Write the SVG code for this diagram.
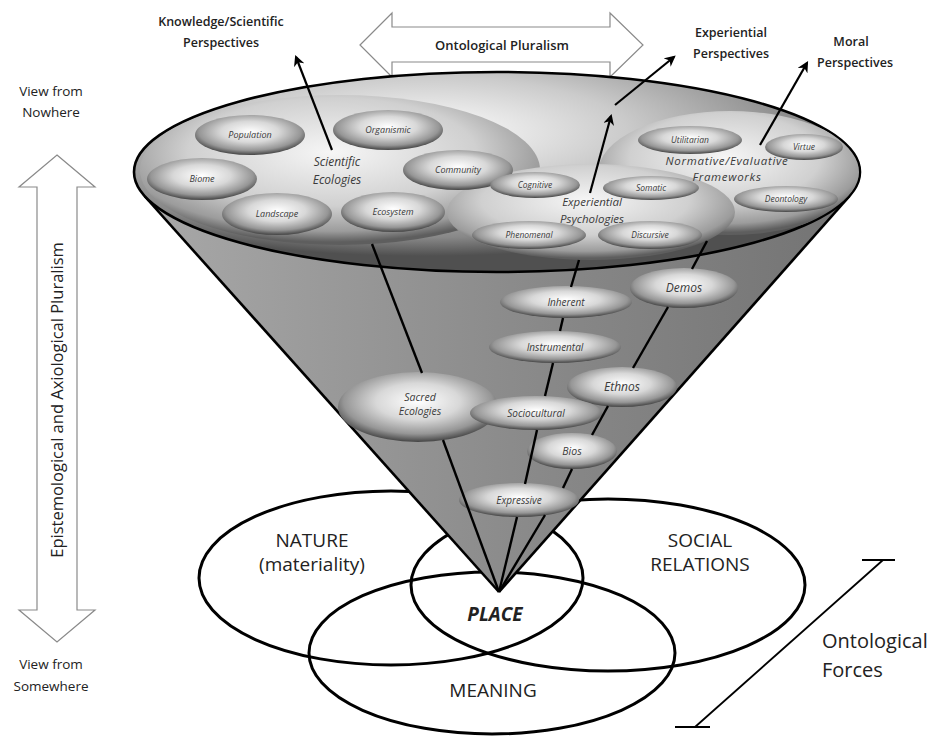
<svg xmlns="http://www.w3.org/2000/svg" width="946" height="736" viewBox="0 0 946 736">
<defs>
<style>
.lbl{font-family:"Open Sans","Liberation Sans",sans-serif;fill:#222;text-anchor:middle}
.hd{font-size:12.5px;font-weight:600}
.big{font-size:19px}
.ni{font-family:"Open Sans","Liberation Sans",sans-serif;font-style:italic;fill:#3a3a3a;text-anchor:middle}
.venn{fill:none;stroke:#000;stroke-width:3}
.conn{stroke:#000;stroke-width:2.4;fill:none}
.arr{stroke:#000;stroke-width:2.2;fill:none;marker-end:url(#ah)}
.bub{fill:url(#gBub)}
.reg{fill:url(#gReg)}
.dbl{fill:#fff;stroke:#8a8a8a;stroke-width:1.2}
</style>
<marker id="ah" viewBox="0 0 10 10" refX="8" refY="5" markerWidth="5" markerHeight="5" orient="auto">
<path d="M0,0 L10,5 L0,10 L3,5 z" fill="#000"/>
</marker>
<radialGradient id="gBub" cx="50%" cy="42%" r="58%">
<stop offset="0" stop-color="#ffffff"/>
<stop offset="0.45" stop-color="#d8d8d8"/>
<stop offset="0.8" stop-color="#969696"/>
<stop offset="1" stop-color="#444444"/>
</radialGradient>
<radialGradient id="gReg" cx="48%" cy="38%" r="60%">
<stop offset="0" stop-color="#f6f6f6"/>
<stop offset="0.6" stop-color="#d0d0d0"/>
<stop offset="0.88" stop-color="#9c9c9c"/>
<stop offset="1" stop-color="#5e5e5e"/>
</radialGradient>
<radialGradient id="gTop" cx="40%" cy="30%" r="62%">
<stop offset="0" stop-color="#ffffff"/>
<stop offset="0.45" stop-color="#cbcbcb"/>
<stop offset="0.85" stop-color="#888888"/>
<stop offset="1" stop-color="#505050"/>
</radialGradient>
<linearGradient id="gCone" x1="0" y1="0" x2="1" y2="0">
<stop offset="0" stop-color="#a8a8a8"/>
<stop offset="0.5" stop-color="#8c8c8c"/>
<stop offset="1" stop-color="#737373"/>
</linearGradient>
<clipPath id="topClip"><ellipse cx="497" cy="172" rx="362" ry="99"/></clipPath>
</defs>
<rect width="946" height="736" fill="#fff"/>

<g id="ontological-pluralism">
<polygon class="dbl" points="360,45 392,13 392,27 610,27 610,13 643,45 610,77 610,62 392,62 392,77"/>
<text class="lbl" x="502" y="50" font-size="13" font-weight="600">Ontological Pluralism</text>
</g>

<g id="epistemological-pluralism">
<polygon class="dbl" points="57,155 95,187 77,187 77,610 95,610 57,642 19,610 37,610 37,187 19,187"/>
<text class="lbl" transform="translate(63,400) rotate(-90)" font-size="16.5">Epistemological and Axiological Pluralism</text>
</g>

<g id="view-labels">
<text class="lbl" x="51" y="96" font-size="13.5">View from</text>
<text class="lbl" x="51" y="117" font-size="13.5">Nowhere</text>
<text class="lbl" x="51" y="669" font-size="13.5">View from</text>
<text class="lbl" x="51" y="691" font-size="13.5">Somewhere</text>
</g>

<g id="nature"><ellipse class="venn" cx="391" cy="578" rx="192" ry="87"/></g>
<g id="social-relations"><ellipse class="venn" cx="608" cy="585" rx="197" ry="86"/></g>
<g id="meaning"><ellipse class="venn" cx="492" cy="653" rx="183" ry="81"/></g>

<g id="cone">
<polygon points="144.5,196 499,592 849.6,196" fill="url(#gCone)"/>
<line x1="144.5" y1="196" x2="499" y2="592" stroke="#000" stroke-width="2.6"/>
<line x1="849.6" y1="196" x2="499" y2="592" stroke="#000" stroke-width="2.6"/>
<ellipse cx="497" cy="172" rx="363" ry="100" fill="url(#gTop)" stroke="#000" stroke-width="2.6"/>
</g>

<g clip-path="url(#topClip)">
<g id="scientific-ecologies">
<ellipse class="reg" cx="340" cy="170" rx="200" ry="75"/>
<text class="ni" x="337" y="166" font-size="12">Scientific</text>
<text class="ni" x="337" y="184" font-size="12">Ecologies</text>
</g>
<g id="normative-frameworks">
<ellipse class="reg" cx="730" cy="173" rx="132" ry="62"/>
</g>
<g id="experiential-psychologies">
<ellipse class="reg" cx="591" cy="212" rx="144" ry="48"/>
<text class="ni" x="592" y="206" font-size="11.5">Experiential</text>
<text class="ni" x="592" y="223" font-size="11.5">Psychologies</text>
</g>
</g>

<g id="population"><ellipse class="bub" cx="250" cy="135" rx="55" ry="20"/><text class="ni" x="250" y="138" font-size="9">Population</text></g>
<g id="organismic"><ellipse class="bub" cx="388" cy="130" rx="55" ry="20"/><text class="ni" x="388" y="133" font-size="9">Organismic</text></g>
<g id="biome"><ellipse class="bub" cx="202" cy="179" rx="55" ry="21"/><text class="ni" x="202" y="182" font-size="9">Biome</text></g>
<g id="community"><ellipse class="bub" cx="458" cy="170" rx="55" ry="20"/><text class="ni" x="458" y="173" font-size="9">Community</text></g>
<g id="landscape"><ellipse class="bub" cx="277" cy="214" rx="55" ry="21"/><text class="ni" x="277" y="217" font-size="9">Landscape</text></g>
<g id="ecosystem"><ellipse class="bub" cx="393" cy="212" rx="52" ry="20"/><text class="ni" x="393" y="215" font-size="9">Ecosystem</text></g>
<g id="cognitive"><ellipse class="bub" cx="535" cy="185" rx="45" ry="13"/><text class="ni" x="535" y="188" font-size="8.5">Cognitive</text></g>
<g id="somatic"><ellipse class="bub" cx="651" cy="188" rx="48" ry="12"/><text class="ni" x="651" y="191" font-size="8.5">Somatic</text></g>
<g id="phenomenal"><ellipse class="bub" cx="529" cy="235" rx="57" ry="14"/><text class="ni" x="529" y="238" font-size="8.5">Phenomenal</text></g>
<g id="discursive"><ellipse class="bub" cx="650" cy="235" rx="52" ry="14"/><text class="ni" x="650" y="238" font-size="8.5">Discursive</text></g>
<g id="utilitarian"><ellipse class="bub" cx="690" cy="140" rx="52" ry="14"/><text class="ni" x="690" y="143" font-size="8.5">Utilitarian</text></g>
<g id="virtue"><ellipse class="bub" cx="804" cy="147" rx="39" ry="13"/><text class="ni" x="804" y="150" font-size="8.5">Virtue</text></g>
<g id="deontology"><ellipse class="bub" cx="786" cy="199" rx="52" ry="13"/><text class="ni" x="786" y="202" font-size="8.5">Deontology</text></g>

<g id="normative-frameworks-label">
<text class="ni" x="727" y="165" font-size="11.5" letter-spacing="0.7">Normative/Evaluative</text>
<text class="ni" x="727" y="181" font-size="11.5" letter-spacing="0.7">Frameworks</text>
</g>

<g id="inherent"><ellipse class="bub" cx="566" cy="302" rx="66" ry="16"/><text class="ni" x="566" y="305.5" font-size="10">Inherent</text></g>
<g id="demos"><ellipse class="bub" cx="684" cy="288" rx="54" ry="20"/><text class="ni" x="684" y="292" font-size="12">Demos</text></g>
<g id="instrumental"><ellipse class="bub" cx="555" cy="347" rx="66" ry="16"/><text class="ni" x="555" y="350.5" font-size="10">Instrumental</text></g>
<g id="ethnos"><ellipse class="bub" cx="622" cy="387" rx="55" ry="20"/><text class="ni" x="622" y="391" font-size="12">Ethnos</text></g>
<g id="sacred-ecologies"><ellipse class="bub" cx="418" cy="407" rx="80" ry="35"/><text class="ni" x="420" y="401" font-size="10.5">Sacred</text><text class="ni" x="420" y="415" font-size="10.5">Ecologies</text></g>
<g id="sociocultural"><ellipse class="bub" cx="536" cy="413" rx="66" ry="17"/><text class="ni" x="536" y="416.5" font-size="10">Sociocultural</text></g>
<g id="bios"><ellipse class="bub" cx="572" cy="451" rx="45" ry="18"/><text class="ni" x="572" y="455" font-size="10.5">Bios</text></g>
<g id="expressive"><ellipse class="bub" cx="519" cy="500" rx="60" ry="17"/><text class="ni" x="519" y="503.5" font-size="10">Expressive</text></g>

<g id="connectors">
<line class="conn" x1="372" y1="244" x2="422" y2="373"/>
<line class="conn" x1="443" y1="440" x2="499" y2="592"/>
<line class="conn" x1="579" y1="260" x2="571" y2="287"/>
<line class="conn" x1="563" y1="318" x2="560" y2="331"/>
<line class="conn" x1="553" y1="363" x2="545" y2="396"/>
<line class="conn" x1="537" y1="430" x2="525" y2="484"/>
<line class="conn" x1="517" y1="517" x2="499" y2="592"/>
<line class="conn" x1="572" y1="469" x2="563" y2="488"/>
<line class="conn" x1="545" y1="515" x2="499" y2="592"/>
<line class="conn" x1="707" y1="241" x2="692" y2="269"/>
<line class="conn" x1="668" y1="307" x2="633" y2="368"/>
<line class="conn" x1="608" y1="406" x2="592" y2="435"/>
<line class="arr" x1="332" y1="150" x2="296" y2="57"/>
<line class="arr" x1="590" y1="193" x2="611" y2="116"/>
<line class="arr" x1="615" y1="105" x2="674" y2="57"/>
<line class="arr" x1="760" y1="145" x2="807" y2="63"/>
</g>

<g id="knowledge-perspectives">
<text class="lbl hd" x="221" y="26">Knowledge/Scientific</text>
<text class="lbl hd" x="221" y="47">Perspectives</text>
</g>
<g id="experiential-perspectives">
<text class="lbl hd" x="731" y="37">Experiential</text>
<text class="lbl hd" x="731" y="58">Perspectives</text>
</g>
<g id="moral-perspectives">
<text class="lbl hd" x="851" y="46">Moral</text>
<text class="lbl hd" x="855" y="67">Perspectives</text>
</g>

<g id="venn-labels">
<text class="lbl big" x="312" y="547">NATURE</text>
<text class="lbl big" x="312" y="571">(materiality)</text>
<text class="lbl big" x="700" y="547">SOCIAL</text>
<text class="lbl big" x="700" y="571">RELATIONS</text>
<text class="lbl" x="495" y="621" font-size="19" font-style="italic" font-weight="bold">PLACE</text>
<text class="lbl big" x="493" y="697">MEANING</text>
</g>

<g id="ontological-forces">
<line x1="883" y1="560" x2="695" y2="727" stroke="#000" stroke-width="1.8"/>
<line x1="862" y1="560" x2="895" y2="560" stroke="#000" stroke-width="1.8"/>
<line x1="675" y1="727" x2="710" y2="727" stroke="#000" stroke-width="1.8"/>
<text x="822" y="648" font-family="Open Sans, Liberation Sans, sans-serif" font-size="20" fill="#222">Ontological</text>
<text x="822" y="677" font-family="Open Sans, Liberation Sans, sans-serif" font-size="20" fill="#222">Forces</text>
</g>
</svg>
